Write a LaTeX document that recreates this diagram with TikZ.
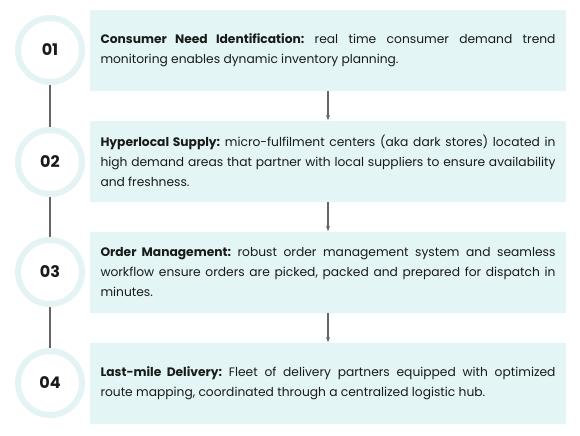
\documentclass[tikz,border=0pt]{standalone}
\usepackage{fontspec}
\setmainfont{Poppins}
\usetikzlibrary{arrows.meta}
\hyphenpenalty=10000
\exhyphenpenalty=10000
\frenchspacing
\definecolor{boxfill}{HTML}{E3F5F5}
\definecolor{ringcol}{HTML}{E4F4F4}
\definecolor{linecol}{HTML}{666666}
\definecolor{txtcol}{HTML}{1A1A1A}
\tikzset{
  stepcard/.style={rectangle, fill=boxfill, minimum width=476*0.75pt, minimum height=81*0.75pt,
    text width=455*0.75pt, align=justify, inner sep=0pt,
    font=\fontsize{9.2}{15}\selectfont, text=txtcol},
  stepnum/.style={circle, fill=white, draw=ringcol, line width=6*0.75pt, minimum size=64*0.75pt,
    inner sep=0pt, font=\fontsize{12}{14}\selectfont\bfseries, text=txtcol},
  tline/.style={draw=linecol, line width=0.8pt},
  flow/.style={draw=linecol, line width=0.8pt, -{Stealth[length=4pt,width=3pt]}}
}
\begin{document}
\begin{tikzpicture}[x=0.75pt,y=-0.75pt]
\useasboundingbox (0,0) rectangle (580,435);
\node[stepcard] (b1) at (328,50.5) {\textbf{Consumer Need Identification:} real time consumer demand trend monitoring enables dynamic inventory planning.};
\node[stepcard] (b2) at (328,161) {\textbf{Hyperlocal Supply:} micro-fulfilment centers (aka dark stores) located in high demand areas that partner with local suppliers to ensure availability and freshness.};
\node[stepcard] (b3) at (328,272) {\textbf{Order Management:} robust order management system and seamless workflow ensure orders are picked, packed and prepared for dispatch in minutes.};
\node[stepcard] (b4) at (328,383) {\textbf{Last-mile Delivery:} Fleet of delivery partners equipped with optimized\linebreak route mapping, coordinated through a centralized logistic hub.};
\node[stepnum] (c1) at (50,50) {01};
\node[stepnum] (c2) at (50,162) {02};
\node[stepnum] (c3) at (50,272) {03};
\node[stepnum] (c4) at (50,383) {04};
\draw[tline] (c1.south) -- (c2.north);
\draw[tline] (c2.south) -- (c3.north);
\draw[tline] (c3.south) -- (c4.north);
\draw[flow] (b1.south) -- (b2.north);
\draw[flow] (b2.south) -- (b3.north);
\draw[flow] (b3.south) -- (b4.north);
\end{tikzpicture}
\end{document}
